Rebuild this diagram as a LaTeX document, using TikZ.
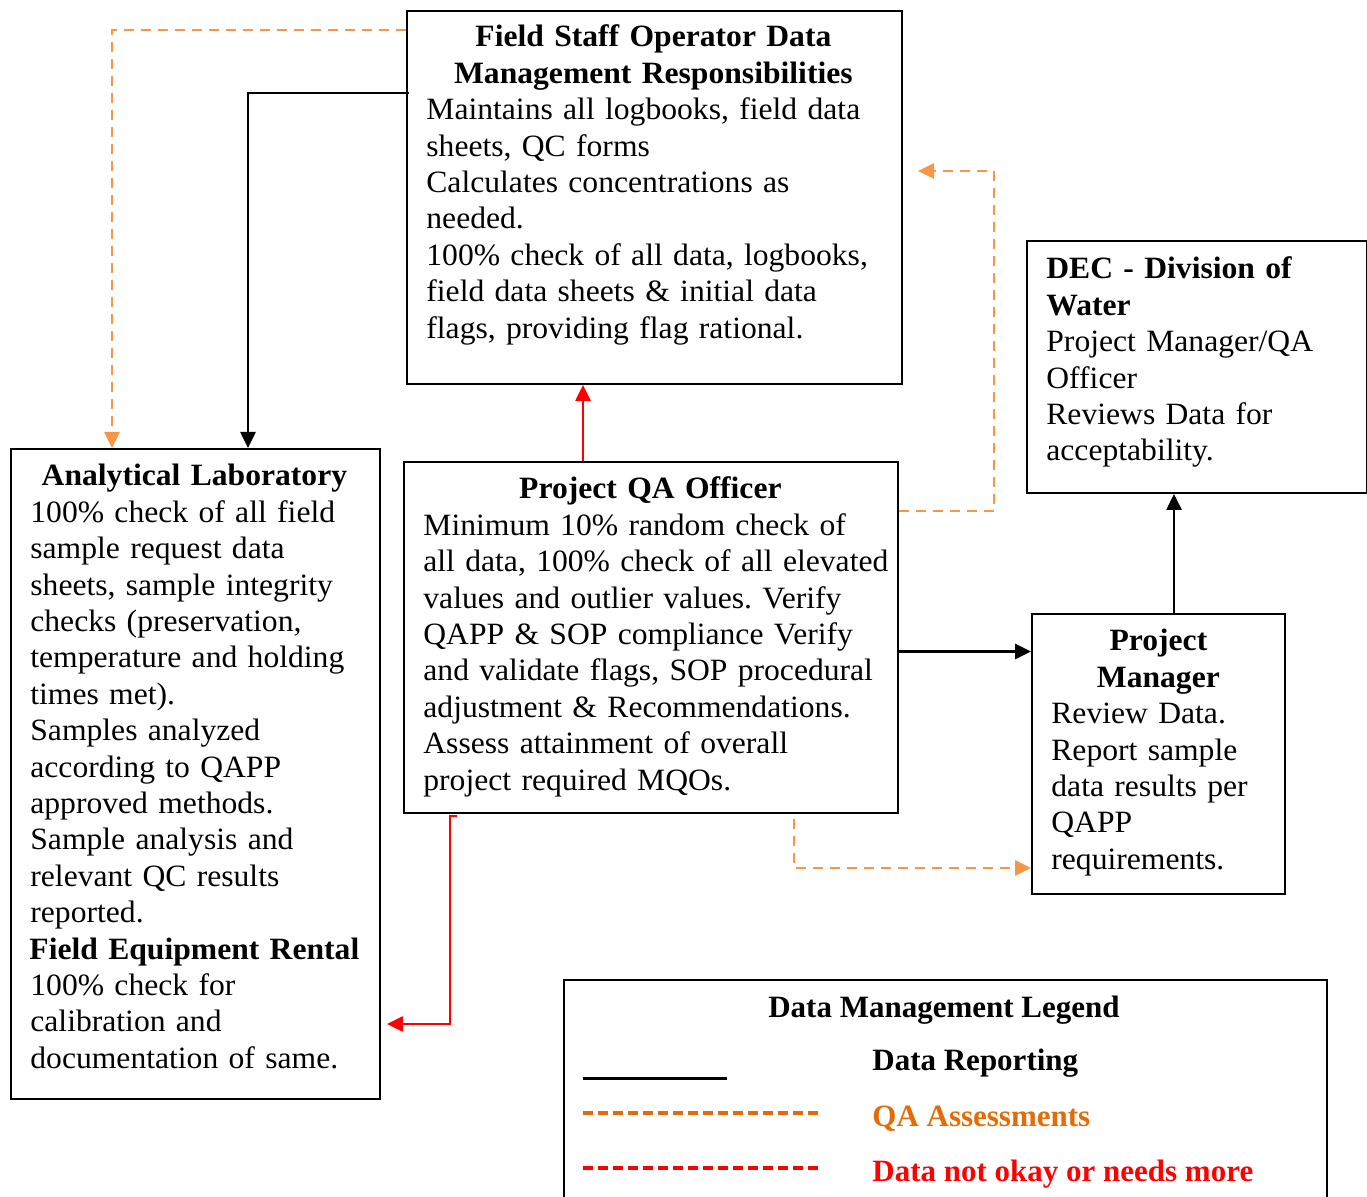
\documentclass[tikz,border=0pt]{standalone}
\usepackage{fontspec}
\setmainfont{Liberation Serif}[FakeStretch=1.02]
\newfontfamily\legfont{Liberation Serif}
\usetikzlibrary{arrows.meta}
\definecolor{qaorange}{HTML}{F79646}
\definecolor{legorange}{HTML}{E36C09}
\definecolor{notok}{HTML}{FF0000}
\newcommand{\bodyfont}{\fontsize{15.5}{18.2}\selectfont}
\newcommand{\boxtitle}[2]{\makebox[#1][c]{\bfseries #2}}
\frenchspacing

\begin{document}
\begin{tikzpicture}[
  x=0.5pt, y=-0.5pt,
  box/.style={draw, line width=1pt, anchor=north west, inner sep=0pt},
  txt/.style={anchor=base west, inner sep=0pt, text width=300pt, align=left, font=\bodyfont},
  tip/.style={-{Triangle[length=8pt,width=7.5pt]}},
  report/.style={tip, line width=1.3pt},
  qaline/.style={tip, qaorange, line width=1.3pt, dash pattern=on 5pt off 3.5pt},
  redo/.style={tip, notok, line width=1.3pt}
]
% page size of the reference (pixel grid, 1px = 0.5pt)
\useasboundingbox (0,0) rectangle (1367,1197);

% Boxes
\node[box, minimum width=247.5pt, minimum height=186.5pt] (fs) at (406,10) {};
\node[box, minimum width=184.5pt, minimum height=325pt] (lab) at (10,448) {};
\node[box, minimum width=247pt, minimum height=175.5pt] (qa) at (403,461) {};
\node[box, minimum width=170pt, minimum height=126pt] (dec) at (1026,240) {};
\node[box, minimum width=126.5pt, minimum height=140pt] (pm) at (1031,613) {};
\node[box, minimum width=381.5pt, minimum height=130pt] (leg) at (563,979) {};

% Box texts
\node[txt] (fstext) at (426,47) {%
  \boxtitle{227pt}{Field Staff Operator Data}\\
  \boxtitle{227pt}{Management Responsibilities}\\
  Maintains all logbooks, field data\\
  sheets, QC forms\\
  Calculates concentrations as\\
  needed.\\
  100\% check of all data, logbooks,\\
  field data sheets \& initial data\\
  flags, providing flag rational.};

\node[txt] (labtext) at (30,486) {%
  \boxtitle{164pt}{Analytical Laboratory}\\
  100\% check of all field\\
  sample request data\\
  sheets, sample integrity\\
  checks (preservation,\\
  temperature and holding\\
  times met).\\
  Samples analyzed\\
  according to QAPP\\
  approved methods.\\
  Sample analysis and\\
  relevant QC results\\
  reported.\\
  \boxtitle{164pt}{Field Equipment Rental}\\
  100\% check for\\
  calibration and\\
  documentation of same.};

\node[txt] (qatext) at (423,499) {%
  \boxtitle{227pt}{Project QA Officer}\\
  Minimum 10\% random check of\\
  all data, 100\% check of all elevated\\
  values and outlier values. Verify\\
  QAPP \& SOP compliance Verify\\
  and validate flags, SOP procedural\\
  adjustment \& Recommendations.\\
  Assess attainment of overall\\
  project required MQOs.};

\node[txt] (dectext) at (1046,279) {%
  \textbf{DEC - Division of}\\
  \textbf{Water}\\
  Project Manager/QA\\
  Officer\\
  Reviews Data for\\
  acceptability.};

\node[txt] (pmtext) at (1051,651) {%
  \boxtitle{107pt}{Project}\\
  \boxtitle{107pt}{Manager}\\
  Review Data.\\
  Report sample\\
  data results per\\
  QAPP\\
  requirements.};

% Legend
\node[anchor=base, inner sep=0pt, font=\bodyfont\legfont\bfseries] (legtitle) at (944,1017) {Data Management Legend};
\node[anchor=base west, inner sep=0pt, font=\bodyfont\legfont\bfseries] (legreport) at (872,1071) {Data Reporting};
\node[anchor=base west, inner sep=0pt, font=\bodyfont\legfont\bfseries, text=legorange] (legqa) at (872,1126) {QA Assessments};
\node[anchor=base west, inner sep=0pt, font=\bodyfont\legfont\bfseries, text=notok] (legnotok) at (872,1181) {Data not okay or needs more};
\coordinate (blkA) at (583,1078);
\coordinate (blkB) at (727,1078);
\coordinate (orgA) at (583,1113);
\coordinate (orgB) at (821,1113);
\coordinate (redA) at (583,1168);
\coordinate (redB) at (821,1168);
\draw[line width=1.5pt] (blkA) -- (blkB);
\draw[legorange, line width=2pt, dash pattern=on 5pt off 2.5pt] (orgA) -- (orgB);
\draw[notok, line width=2pt, dash pattern=on 5pt off 2.5pt] (redA) -- (redB);

% Connectors
\draw[qaline] ([yshift=-10pt]fs.north west) -| ([xshift=51pt]lab.north west);
\draw[report] ([xshift=1.5pt,yshift=-41.5pt]fs.north west) -| ([xshift=119pt]lab.north west);
\draw[redo] ([xshift=90pt]qa.north west) -- ([xshift=88.5pt]fs.south west);
\draw[qaline] ([yshift=-25pt]qa.north east) -- ++(47.5pt,0) |- ([xshift=7.5pt,yshift=-80.5pt]fs.north east);
\draw[report] ([yshift=-7pt]qa.east) -- ([yshift=-7pt]qa.east -| pm.west);
\draw[report] ([xshift=71.5pt]pm.north west) coordinate (pmtop) -- (pmtop |- dec.south);
\draw[qaline] ([xshift=195.5pt,yshift=-2.5pt]qa.south west) |- ([yshift=13.5pt]pm.south west);
\draw[redo] ([xshift=27pt,yshift=-1pt]qa.south west) -- ([xshift=23.5pt,yshift=-1pt]qa.south west) |- ([xshift=3pt,yshift=-125pt]lab.east);
\end{tikzpicture}
\end{document}
